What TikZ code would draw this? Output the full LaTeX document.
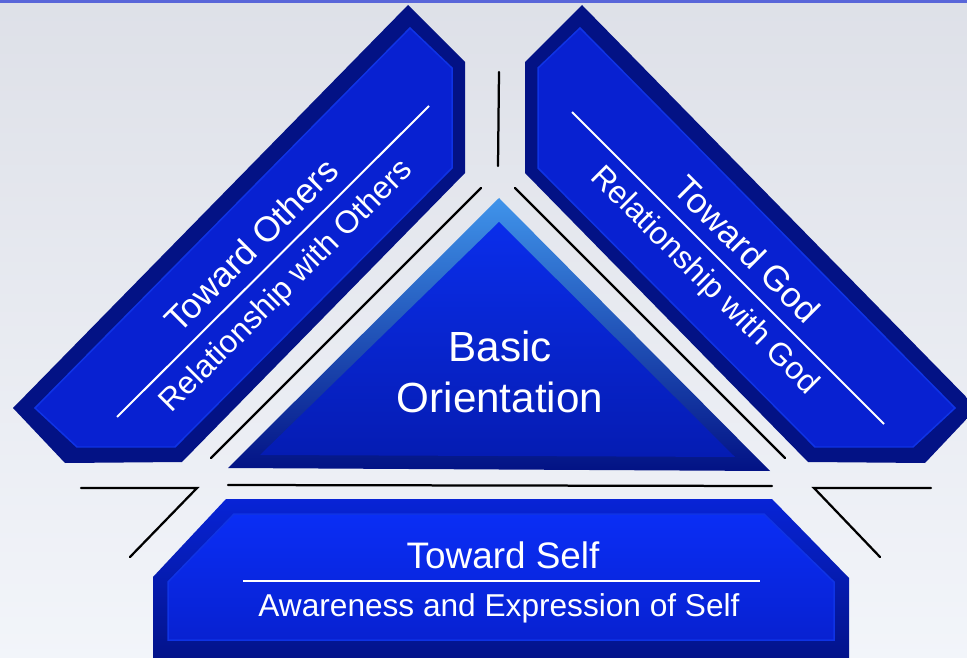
\documentclass[tikz,border=0pt]{standalone}
\usepackage{fontspec}
\setmainfont{Liberation Sans}
\usepackage{xcolor}
\begin{document}
\begin{tikzpicture}[x=0.02cm,y=-0.02cm,
  sepline/.style={line width=0.045cm,color=cline,line cap=round},
  whiteline/.style={line width=0.04cm,color=white},
  bandrim/.style={top color=cbandout,middle color=cbandrim,bottom color=cbandout},
  bandface/.style={top color=cbandedge,middle color=cbandmid,bottom color=cbandedge,draw=crim,line width=0.03cm},
  bandtext/.style={text=white,inner sep=0pt},
  bigfont/.style={font=\fontsize{20}{24}\selectfont},
  smallfont/.style={font=\fontsize{18}{22}\selectfont}]
\definecolor{cbgtop}{rgb}{0.87,0.88,0.91}
\definecolor{cbgmid}{rgb}{0.98,0.98,0.99}
\definecolor{cbgbot}{rgb}{0.95,0.96,0.98}
\definecolor{ctopline}{rgb}{0.35,0.40,0.85}
\definecolor{cline}{rgb}{0.0,0.0,0.0}
\definecolor{cbandout}{rgb}{0.01,0.07,0.52}
\definecolor{cbandrim}{rgb}{0.03,0.14,0.84}
\definecolor{cbandedge}{rgb}{0.03,0.13,0.82}
\definecolor{cbandmid}{rgb}{0.04,0.18,0.96}
\definecolor{crim}{rgb}{0.06,0.20,0.90}
\definecolor{ctrilight}{rgb}{0.25,0.58,0.92}
\definecolor{ctrimid}{rgb}{0.04,0.18,0.92}
\definecolor{ctrilow}{rgb}{0.02,0.11,0.70}
%
\useasboundingbox (0,0) rectangle (967,658);
\clip (0,0) rectangle (967,658);
\shade[top color=cbgtop,middle color=cbgmid,bottom color=cbgbot] (0,0) rectangle (967,658);
\fill[ctopline] (0,0) rectangle (967,3);
%
\shade[bandrim,shading angle=45] (13,408) -- (408,5) -- (465,62) -- (465,173) -- (182,462) -- (65,463) -- cycle;
\shade[bandface,shading angle=45]
  (35,408) -- (410,28) -- (452,68) -- (452,168) -- (175,447) -- (77,447) -- cycle;
\shade[bandrim,shading angle=-45] (977,408) -- (582,5) -- (525,62) -- (525,173) -- (808,462) -- (925,463) -- cycle;
\shade[bandface,shading angle=-45]
  (955,408) -- (580,28) -- (538,68) -- (538,168) -- (815,447) -- (913,447) -- cycle;
\shade[top color=ctrilight,bottom color=cbandout] (499,198) -- (770,471) -- (228,468) -- cycle;
\shade[top color=ctrimid,bottom color=ctrilow] (499,222) -- (735,457) -- (260,455) -- cycle;
\shade[top color=cbandrim,bottom color=cbandout] (226,499) -- (772,499) -- (849,578) -- (849,670) -- (153,670) -- (153,577) -- cycle;
\shade[top color=cbandmid,bottom color=cbandedge,draw=crim,line width=0.03cm]
  (234,514) -- (764,514) -- (834,582) -- (834,640) -- (168,640) -- (168,582) -- cycle;
%
\draw[sepline] (211,458) -- (481,188);
\draw[sepline] (515,188) -- (785,458);
\draw[sepline] (499,72) -- (498,166);
\draw[sepline] (228,485) -- (772,486);
\draw[sepline] (81,488) -- (197,488) -- (130,557);
\draw[sepline] (931,488) -- (814,488) -- (880,557);
%
\draw[whiteline] (117,417) -- (429,106);
\draw[whiteline] (572,112) -- (884,424);
\draw[whiteline] (243,581) -- (760,581);
%
\node[bandtext,bigfont,rotate=45] (others) at (251,245) {Toward Others};
\node[bandtext,smallfont,rotate=45] (relothers) at (287,287) {Relationship with Others};
\node[bandtext,bigfont,rotate=-45] (god) at (747,249) {Toward God};
\node[bandtext,smallfont,rotate=-45] (relgod) at (704,281) {Relationship with God};
\node[bandtext,font=\fontsize{24}{29}\selectfont,align=center] (basic) at (500,372) {Basic\\Orientation};
\node[bandtext,font=\fontsize{21}{25}\selectfont] (self) at (503,555) {Toward Self};
\node[bandtext,smallfont] (aware) at (499,608) {Awareness and Expression of Self};
%
\end{tikzpicture}
\end{document}
